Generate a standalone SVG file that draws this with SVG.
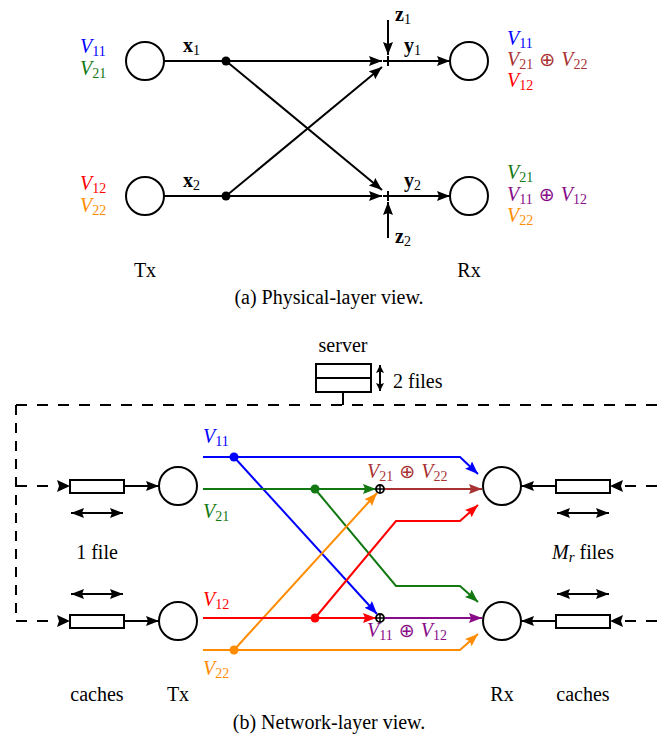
<svg xmlns="http://www.w3.org/2000/svg" width="657" height="738" viewBox="0 0 657 738">
<defs>
<style>
text{font-family:"Liberation Serif","DejaVu Serif",serif;font-size:20px;fill:#000}
.c{text-anchor:middle}
.m{font-style:italic;font-size:20px}
.s{font-style:normal;font-size:14px;font-weight:normal}
.si{font-style:italic;font-size:15px}
.o{font-style:normal;font-family:"DejaVu Sans",sans-serif;font-size:19px}
.b{font-weight:bold}
.ln{stroke:#000;stroke-width:2;fill:none}
.node{fill:#fff;stroke:#000;stroke-width:2}
.dash{stroke:#000;stroke-width:2;fill:none;stroke-dasharray:11 10}
.dv{stroke:#000;stroke-width:2;fill:none;stroke-dasharray:10 8}
.cl{stroke-width:2;fill:none}
.blue{fill:#0000ff;stroke:#0000ff}
.green{fill:#127812;stroke:#127812}
.brown{fill:#a83232;stroke:#a83232}
.red{fill:#ff0000;stroke:#ff0000}
.orange{fill:#ff8c00;stroke:#ff8c00}
.purple{fill:#880c88;stroke:#880c88}
text.blue,text.green,text.brown,text.red,text.orange,text.purple{stroke:none}
</style>
<marker id="ak" markerUnits="userSpaceOnUse" markerWidth="14" markerHeight="12" refX="13" refY="5" orient="auto-start-reverse"><path d="M0,0 L13,5 L0,10 L2,5z" fill="#000"/></marker>
<marker id="aks" markerUnits="userSpaceOnUse" markerWidth="10" markerHeight="10" refX="8" refY="4" orient="auto-start-reverse"><path d="M0,0 L8,4 L0,8 L1.5,4z" fill="#000"/></marker>
<marker id="ab" markerUnits="userSpaceOnUse" markerWidth="14" markerHeight="12" refX="13" refY="5" orient="auto"><path d="M0,0 L13,5 L0,10 L2,5z" fill="#0000ff"/></marker>
<marker id="ag" markerUnits="userSpaceOnUse" markerWidth="14" markerHeight="12" refX="13" refY="5" orient="auto"><path d="M0,0 L13,5 L0,10 L2,5z" fill="#127812"/></marker>
<marker id="an" markerUnits="userSpaceOnUse" markerWidth="14" markerHeight="12" refX="13" refY="5" orient="auto"><path d="M0,0 L13,5 L0,10 L2,5z" fill="#a83232"/></marker>
<marker id="ar" markerUnits="userSpaceOnUse" markerWidth="14" markerHeight="12" refX="13" refY="5" orient="auto"><path d="M0,0 L13,5 L0,10 L2,5z" fill="#ff0000"/></marker>
<marker id="ao" markerUnits="userSpaceOnUse" markerWidth="14" markerHeight="12" refX="13" refY="5" orient="auto"><path d="M0,0 L13,5 L0,10 L2,5z" fill="#ff8c00"/></marker>
<marker id="ap" markerUnits="userSpaceOnUse" markerWidth="14" markerHeight="12" refX="13" refY="5" orient="auto"><path d="M0,0 L13,5 L0,10 L2,5z" fill="#880c88"/></marker>
</defs>

<!-- (a) Physical-layer view -->
<g id="a-tx1"><circle class="node" cx="145" cy="61" r="19"/>
<text class="m blue" x="80" y="53">V<tspan class="s" dy="3">11</tspan></text>
<text class="m green" x="80" y="75">V<tspan class="s" dy="3">21</tspan></text></g>
<g id="a-tx2"><circle class="node" cx="145" cy="196" r="19"/>
<text class="m red" x="80" y="190">V<tspan class="s" dy="3">12</tspan></text>
<text class="m orange" x="80" y="212">V<tspan class="s" dy="3">22</tspan></text></g>
<g id="a-rx1"><circle class="node" cx="469" cy="61" r="19"/>
<text class="m blue" x="507" y="45">V<tspan class="s" dy="3">11</tspan></text>
<text class="m brown" x="507" y="66">V<tspan class="s" dy="3">21</tspan><tspan class="o" dy="-3"> ⊕ </tspan>V<tspan class="s" dy="3">22</tspan></text>
<text class="m red" x="507" y="87">V<tspan class="s" dy="3">12</tspan></text></g>
<g id="a-rx2"><circle class="node" cx="469" cy="196" r="19"/>
<text class="m green" x="507" y="179">V<tspan class="s" dy="3">21</tspan></text>
<text class="m purple" x="507" y="201">V<tspan class="s" dy="3">11</tspan><tspan class="o" dy="-3"> ⊕ </tspan>V<tspan class="s" dy="3">12</tspan></text>
<text class="m orange" x="507" y="222">V<tspan class="s" dy="3">22</tspan></text></g>
<g id="a-sum1"><path class="ln" d="M383,61 H393 M388,56 V66"/></g>
<g id="a-sum2"><path class="ln" d="M383,196 H393 M388,191 V201"/></g>
<g id="a-connectors">
<path class="ln" d="M164,61 H226 M164,196 H226"/>
<circle cx="226" cy="61" r="4.5"/><circle cx="226" cy="196" r="4.5"/>
<path class="ln" d="M226,61 H382" marker-end="url(#ak)"/>
<path class="ln" d="M226,61 L382,190" marker-end="url(#ak)"/>
<path class="ln" d="M226,196 H382" marker-end="url(#ak)"/>
<path class="ln" d="M226,196 L382,67" marker-end="url(#ak)"/>
<path class="ln" d="M388,20 V55" marker-end="url(#ak)"/>
<path class="ln" d="M388,238 V202" marker-end="url(#ak)"/>
<path class="ln" d="M393,61 H450" marker-end="url(#ak)"/>
<path class="ln" d="M393,196 H450" marker-end="url(#ak)"/>
</g>
<text class="b" x="183" y="52">x<tspan class="s" dy="3">1</tspan></text>
<text class="b" x="183" y="187">x<tspan class="s" dy="3">2</tspan></text>
<text class="b" x="404" y="52">y<tspan class="s" dy="3">1</tspan></text>
<text class="b" x="404" y="187">y<tspan class="s" dy="3">2</tspan></text>
<text class="b" x="395" y="21">z<tspan class="s" dy="3">1</tspan></text>
<text class="b" x="395" y="243">z<tspan class="s" dy="3">2</tspan></text>
<text class="c" x="145" y="277">Tx</text>
<text class="c" x="469" y="277">Rx</text>
<text class="c" x="329" y="304">(a) Physical-layer view.</text>

<!-- (b) Network-layer view -->
<g id="b-server">
<text class="c" x="343" y="352">server</text>
<rect class="node" x="316" y="364" width="55" height="28"/>
<path class="ln" d="M316,378 H371 M343,392 V405"/>
<path class="ln" d="M380,365 V391" marker-start="url(#aks)" marker-end="url(#aks)"/>
<text x="393" y="388">2 files</text>
</g>
<g id="b-cache-tx1"><rect class="node" x="70" y="480" width="54" height="13"/>
<path class="ln" d="M71,513 H123" marker-start="url(#ak)" marker-end="url(#ak)"/></g>
<g id="b-cache-tx2"><rect class="node" x="70" y="615" width="54" height="13"/>
<path class="ln" d="M71,594 H123" marker-start="url(#ak)" marker-end="url(#ak)"/></g>
<g id="b-cache-rx1"><rect class="node" x="556" y="480" width="54" height="13"/>
<path class="ln" d="M557,513 H609" marker-start="url(#ak)" marker-end="url(#ak)"/></g>
<g id="b-cache-rx2"><rect class="node" x="556" y="615" width="54" height="13"/>
<path class="ln" d="M557,594 H609" marker-start="url(#ak)" marker-end="url(#ak)"/></g>
<g id="b-tx1"><circle class="node" cx="178" cy="486" r="19"/></g>
<g id="b-tx2"><circle class="node" cx="178" cy="621" r="19"/></g>
<g id="b-rx1"><circle class="node" cx="502" cy="486" r="19"/></g>
<g id="b-rx2"><circle class="node" cx="502" cy="621" r="19"/></g>
<text class="c" x="97" y="559">1 file</text>
<text class="c" x="583" y="559"><tspan class="m">M</tspan><tspan class="si" dy="3">r</tspan><tspan dy="-3"> files</tspan></text>
<text class="c" x="97" y="701">caches</text>
<text class="c" x="178" y="701">Tx</text>
<text class="c" x="502" y="701">Rx</text>
<text class="c" x="583" y="701">caches</text>
<text class="c" x="329" y="729">(b) Network-layer view.</text>

<g id="b-connectors">
<path class="dash" d="M16,405 H657"/>
<path class="dv" d="M16,405 V621"/>
<path class="dash" d="M16,486 H58"/>
<path class="dash" d="M16,621 H58"/>
<path d="M57,480 L70,486 L57,492 L59,486z"/>
<path d="M57,615 L70,621 L57,627 L59,621z"/>
<path class="ln" d="M124,486 H159" marker-end="url(#ak)"/>
<path class="ln" d="M124,621 H159" marker-end="url(#ak)"/>
<path class="ln" d="M556,486 H521" marker-end="url(#ak)"/>
<path class="ln" d="M556,621 H521" marker-end="url(#ak)"/>
<path class="dash" d="M657,486 H625"/>
<path class="dash" d="M657,621 H625"/>
<path d="M623,480 L610,486 L623,492 L621,486z"/>
<path d="M623,615 L610,621 L623,627 L621,621z"/>

<path class="cl blue" style="fill:none" d="M203,457 H460 L478,474" marker-end="url(#ab)"/>
<path class="cl blue" style="fill:none" d="M234,457 L377,614" marker-end="url(#ab)"/>
<path class="cl green" style="fill:none" d="M203,489 H376" marker-end="url(#ag)"/>
<path class="cl green" style="fill:none" d="M315,489 L396,586 H460 L478,602" marker-end="url(#ag)"/>
<path class="cl brown" style="fill:none" d="M384,489 H482" marker-end="url(#an)"/>
<path class="cl orange" style="fill:none" d="M203,650 H460 L478,634" marker-end="url(#ao)"/>
<path class="cl orange" style="fill:none" d="M234,650 L377,493" marker-end="url(#ao)"/>
<path class="cl red" style="fill:none" d="M203,618 H376" marker-end="url(#ar)"/>
<path class="cl red" style="fill:none" d="M315,618 L396,521 H460 L478,505" marker-end="url(#ar)"/>
<path class="cl purple" style="fill:none" d="M384,618 H482" marker-end="url(#ap)"/>
<circle cx="234" cy="457" r="4.5" fill="#0000ff"/>
<circle cx="315" cy="489" r="4.5" fill="#127812"/>
<circle cx="234" cy="650" r="4.5" fill="#ff8c00"/>
<circle cx="315" cy="618" r="4.5" fill="#ff0000"/>
</g>
<g id="b-xor1"><circle cx="380" cy="489" r="4" fill="#fff" stroke="#000" stroke-width="1.8"/><path class="ln" style="stroke-width:1.5" d="M376,489 H384 M380,485 V493"/></g>
<g id="b-xor2"><circle cx="380" cy="618" r="4" fill="#fff" stroke="#000" stroke-width="1.8"/><path class="ln" style="stroke-width:1.5" d="M376,618 H384 M380,614 V622"/></g>
<text class="m blue" x="203" y="443">V<tspan class="s" dy="3">11</tspan></text>
<text class="m green" x="203" y="518">V<tspan class="s" dy="3">21</tspan></text>
<text class="m red" x="203" y="606">V<tspan class="s" dy="3">12</tspan></text>
<text class="m orange" x="203" y="675">V<tspan class="s" dy="3">22</tspan></text>
<text class="m brown" x="367" y="478">V<tspan class="s" dy="3">21</tspan><tspan class="o" dy="-3"> ⊕ </tspan>V<tspan class="s" dy="3">22</tspan></text>
<text class="m purple" x="367" y="637">V<tspan class="s" dy="3">11</tspan><tspan class="o" dy="-3"> ⊕ </tspan>V<tspan class="s" dy="3">12</tspan></text>
</svg>
